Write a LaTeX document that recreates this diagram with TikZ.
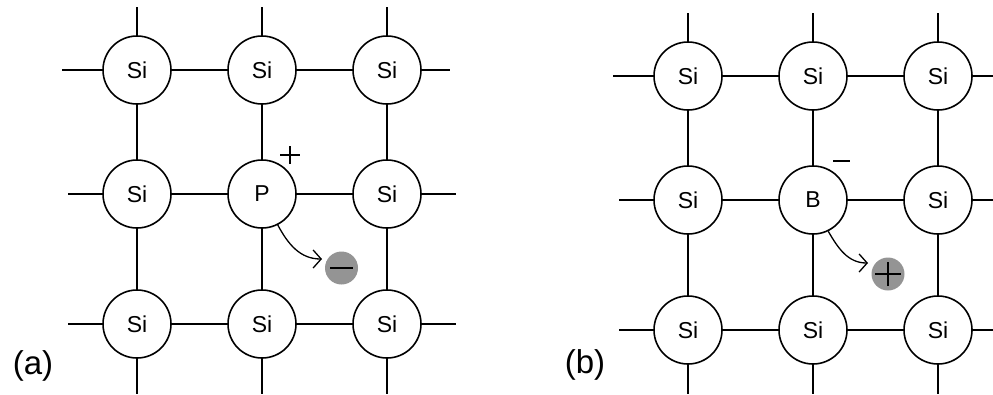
\documentclass[tikz,border=0pt]{standalone}
\usepackage{fontspec}
\setmainfont{Liberation Sans}
\usetikzlibrary{arrows.meta}
\begin{document}
\begin{tikzpicture}[x=1pt,y=-1pt,
  atom/.style={circle,draw,line width=1.6pt,minimum size=68pt,inner sep=0pt,fill=white,font=\fontsize{23}{25}\selectfont},
  bond/.style={line width=1.6pt},
  ball/.style={circle,fill=black!42,minimum size=33pt,inner sep=0pt},
  sign/.style={line width=1.3pt},
  move/.style={line width=1.3pt,-{Straight Barb[length=8pt,width=18pt,line width=1.3pt]}},
  lbl/.style={font=\fontsize{33}{36}\selectfont}]
\useasboundingbox (0,0) rectangle (993,394);
% ---------- panel (a) ----------
\foreach \n/\x/\y in {11/137/70,12/262/70,13/387/70,21/137/194,23/387/194,31/137/324,32/262/324,33/387/324}
  \node[atom] (a\n) at (\x,\y) {Si};
\node[atom] (a22) at (262,194) {P};
\draw[bond] (a11) -- (a12); \draw[bond] (a12) -- (a13);
\draw[bond] (a21) -- (a22); \draw[bond] (a22) -- (a23);
\draw[bond] (a31) -- (a32); \draw[bond] (a32) -- (a33);
\draw[bond] (a11) -- (a21); \draw[bond] (a21) -- (a31);
\draw[bond] (a12) -- (a22); \draw[bond] (a22) -- (a32);
\draw[bond] (a13) -- (a23); \draw[bond] (a23) -- (a33);
\foreach \c/\x in {1/137,2/262,3/387}{
  \coordinate (at\c) at (\x,7);
  \coordinate (ab\c) at (\x,394);
  \draw[bond] (at\c) -- (a1\c.north);
  \draw[bond] (a3\c.south) -- (ab\c);
}
\coordinate (al1) at (62,70);  \draw[bond] (al1) -- (a11.west);
\coordinate (al2) at (68,194); \draw[bond] (al2) -- (a21.west);
\coordinate (al3) at (68,324); \draw[bond] (al3) -- (a31.west);
\coordinate (ar1) at (450,70);  \draw[bond] (a13.east) -- (ar1);
\coordinate (ar2) at (456,194); \draw[bond] (a23.east) -- (ar2);
\coordinate (ar3) at (456,324); \draw[bond] (a33.east) -- (ar3);
\coordinate (pc) at (290,155);
\draw[sign] ([xshift=-10pt]pc) -- ([xshift=10pt]pc) ([yshift=-9pt]pc) -- ([yshift=9pt]pc);
\node[ball] (ea) at (341.5,268) {};
\draw[sign] ([xshift=-11.5pt]ea.center) -- ([xshift=11.5pt]ea.center);
\coordinate (ea0) at (322,259);
\draw[move] (a22.-63) to[out=-62,in=180] (ea0);
\node[lbl] (la) at (33,366) {(a)};
% ---------- panel (b) ----------
\foreach \n/\x/\y in {11/688/76,12/813/76,13/938/76,21/688/200,23/938/200,31/688/330,32/813/330,33/938/330}
  \node[atom] (b\n) at (\x,\y) {Si};
\node[atom] (b22) at (813,200) {B};
\draw[bond] (b11) -- (b12); \draw[bond] (b12) -- (b13);
\draw[bond] (b21) -- (b22); \draw[bond] (b22) -- (b23);
\draw[bond] (b31) -- (b32); \draw[bond] (b32) -- (b33);
\draw[bond] (b11) -- (b21); \draw[bond] (b21) -- (b31);
\draw[bond] (b12) -- (b22); \draw[bond] (b22) -- (b32);
\draw[bond] (b13) -- (b23); \draw[bond] (b23) -- (b33);
\foreach \c/\x in {1/688,2/813,3/938}{
  \coordinate (bt\c) at (\x,13);
  \coordinate (bb\c) at (\x,394);
  \draw[bond] (bt\c) -- (b1\c.north);
  \draw[bond] (b3\c.south) -- (bb\c);
}
\coordinate (bl1) at (613,76);  \draw[bond] (bl1) -- (b11.west);
\coordinate (bl2) at (619,200); \draw[bond] (bl2) -- (b21.west);
\coordinate (bl3) at (619,330); \draw[bond] (bl3) -- (b31.west);
\coordinate (br1) at (993,76);  \draw[bond] (b13.east) -- (br1);
\coordinate (br2) at (993,200); \draw[bond] (b23.east) -- (br2);
\coordinate (br3) at (993,330); \draw[bond] (b33.east) -- (br3);
\coordinate (mc) at (841.5,161);
\draw[sign] ([xshift=-8.5pt]mc) -- ([xshift=8.5pt]mc);
\node[ball] (hb) at (888,274) {};
\draw[sign] ([xshift=-13pt]hb.center) -- ([xshift=13pt]hb.center) ([yshift=-12pt]hb.center) -- ([yshift=12pt]hb.center);
\coordinate (hb0) at (868,263);
\draw[move] (b22.-64) to[out=-60,in=180] (hb0);
\node[lbl] (lb) at (585,365) {(b)};
\end{tikzpicture}
\end{document}
